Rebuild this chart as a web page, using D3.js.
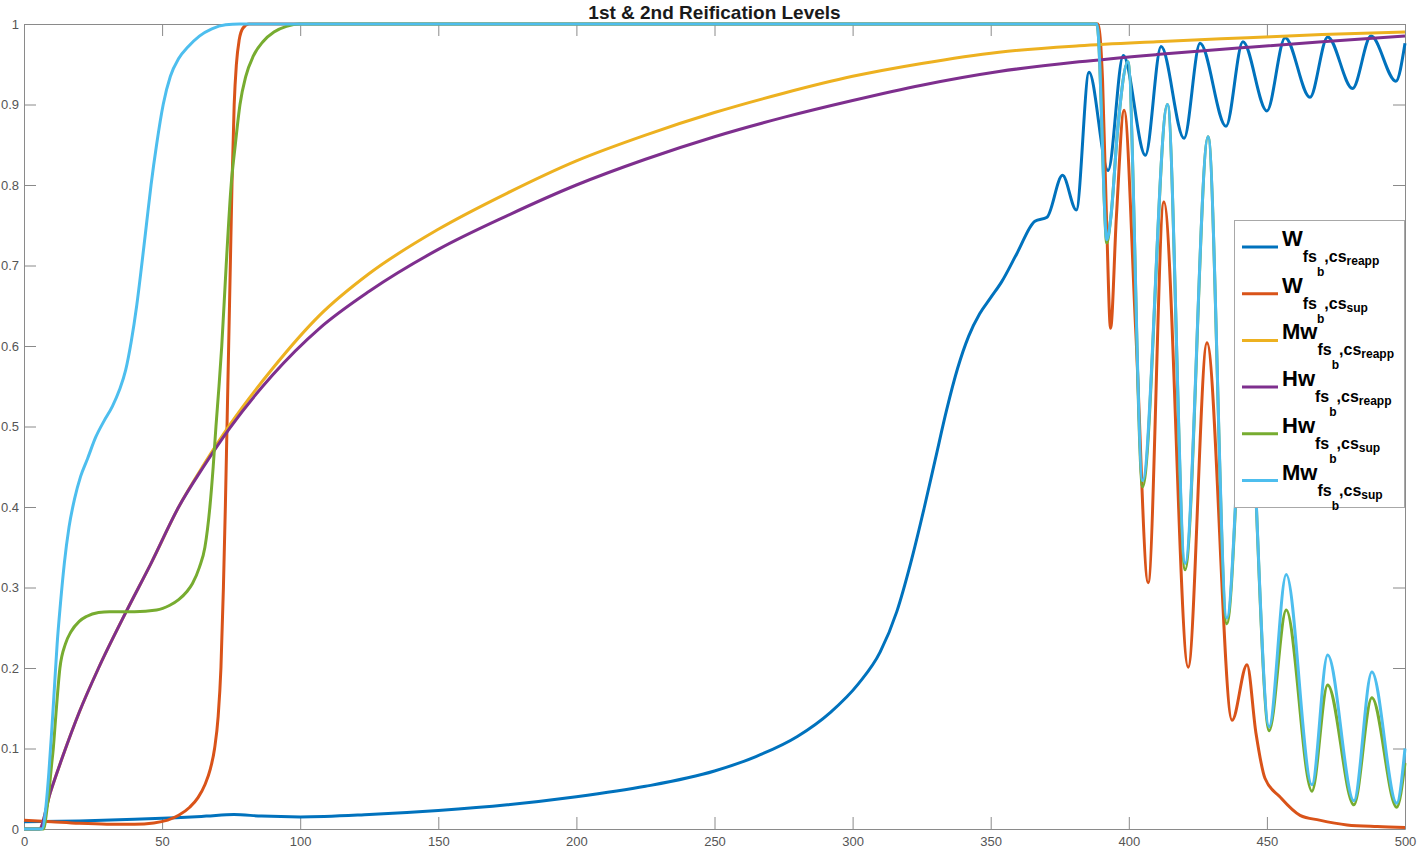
<!DOCTYPE html>
<html lang="en">
<head>
  <meta charset="UTF-8">
  <title>1st &amp; 2nd Reification Levels</title>
  <script src="https://d3js.org/d3.v7.min.js"></script>
  <style>
    * { margin: 0; padding: 0; box-sizing: border-box; }
    body { background: #fff; font-family: "Liberation Sans", Arial, Helvetica, sans-serif; }
    svg { display: block; }
    .axis text { font-family: "Liberation Sans", Arial, sans-serif; font-size: 13px; fill: #555; }
    .axis line, .axis path { stroke: #8a8a8a; }
  </style>
</head>
<body>
<svg id="chart" width="1418" height="850"></svg>
<script>
// ---- data: [t, value] ----
const xTicks = [0, 50, 100, 150, 200, 250, 300, 350, 400, 450, 500];
const yTicks = [0, 0.1, 0.2, 0.3, 0.4, 0.5, 0.6, 0.7, 0.8, 0.9, 1];
const yTickLabels = ["0", "0.1", "0.2", "0.3", "0.4", "0.5", "0.6", "0.7", "0.8", "0.9", "1"];

// W fs_b,cs_reapp (blue)
const wReapp = [
  [0, 0.009], [20, 0.01], [40, 0.012], [55, 0.014], [66, 0.016], [76, 0.018], [86, 0.016],
  [100, 0.015], [125, 0.018], [150, 0.023], [175, 0.03], [200, 0.04], [225, 0.053], [250, 0.072],
  [265, 0.09], [280, 0.115], [292, 0.145], [302, 0.18], [310, 0.22], [316, 0.27], [321, 0.33],
  [326, 0.4], [330, 0.46], [334, 0.52], [338, 0.572], [342, 0.612], [346, 0.64], [350, 0.66],
  [354, 0.68], [359.5, 0.715], [366, 0.755], [370.4, 0.76], [376, 0.812], [381, 0.769], [385.6, 0.94],
  [392.5, 0.818], [398, 0.961], [406, 0.837], [411.7, 0.972], [420, 0.858], [425.8, 0.976],
  [435.2, 0.873], [441.3, 0.978], [450, 0.892], [456.6, 0.983], [465.6, 0.909], [472, 0.984],
  [481, 0.92], [487.7, 0.985], [496.7, 0.929], [500, 0.976]
];

// W fs_b,cs_sup (orange)
const wSup = [
  [0, 0.011], [10, 0.009], [20, 0.007], [30, 0.006], [40, 0.006], [47, 0.0075], [52, 0.011],
  [56, 0.017], [60, 0.027], [63, 0.039], [65.5, 0.055], [67.5, 0.075], [69, 0.1], [70.3, 0.14],
  [71.3, 0.2], [72.2, 0.3], [72.9, 0.4], [73.5, 0.5], [74.1, 0.6], [74.7, 0.7], [75.3, 0.8],
  [76.1, 0.9], [76.9, 0.95], [77.9, 0.98], [79.3, 0.995], [81.5, 1], [388.8, 1], [390.5, 0.93],
  [392, 0.75], [393.4, 0.622], [395.5, 0.76], [398.3, 0.893], [402.5, 0.62], [407, 0.306],
  [412.7, 0.779], [421.5, 0.201], [428.3, 0.604], [437.4, 0.135], [442.8, 0.204], [446, 0.12],
  [449.3, 0.063], [454.7, 0.04], [462, 0.017], [469, 0.011], [479, 0.005], [490, 0.003], [500, 0.002]
];

// Mw fs_b,cs_reapp (yellow)
const mwReapp = [
  [0, 0], [5.5, 0], [9.5, 0.045], [14, 0.09], [20, 0.145], [27, 0.2], [37, 0.27], [46, 0.33],
  [56, 0.4], [65, 0.452], [74.5, 0.502], [90, 0.572], [107, 0.638], [125, 0.69], [150, 0.745],
  [175, 0.79], [200, 0.83], [225, 0.862], [250, 0.89], [275, 0.914], [300, 0.935], [325, 0.951],
  [353, 0.965], [382, 0.973], [410, 0.978], [443, 0.983], [470, 0.987], [500, 0.99]
];

// Hw fs_b,cs_reapp (purple)
const hwReapp = [
  [0, 0], [5.5, 0], [9.5, 0.045], [14, 0.09], [20, 0.145], [27, 0.2], [37, 0.27], [46, 0.33],
  [56, 0.4], [65, 0.45], [74.5, 0.498], [90, 0.564], [107, 0.622], [125, 0.668], [150, 0.72],
  [175, 0.762], [200, 0.8], [225, 0.832], [250, 0.86], [275, 0.884], [300, 0.905], [325, 0.924],
  [353, 0.941], [382, 0.953], [410, 0.962], [443, 0.971], [470, 0.978], [500, 0.985]
];

// Hw fs_b,cs_sup (green)
const hwSup = [
  [0, 0], [7, 0], [8.5, 0.03], [10, 0.08], [10.6, 0.1], [11.5, 0.14], [13, 0.2], [15, 0.23],
  [17, 0.245], [20, 0.258], [22.6, 0.264], [27, 0.269], [31, 0.27], [40, 0.27], [48, 0.272],
  [52.8, 0.278], [56, 0.285], [59, 0.295], [61, 0.305], [63.5, 0.325], [65.5, 0.35], [67.3, 0.4],
  [68.5, 0.45], [69.5, 0.5], [70.6, 0.55], [71.6, 0.6], [73.2, 0.7], [75, 0.8], [76.5, 0.85],
  [78.2, 0.9], [80.3, 0.935], [83, 0.96], [86.5, 0.978], [90.5, 0.99], [95, 0.997], [100, 1],
  [388.4, 1], [389, 0.985], [390, 0.9], [391, 0.79], [392, 0.728], [393.5, 0.76], [396, 0.87],
  [399.7, 0.953], [405, 0.425], [414, 0.9], [420.4, 0.322], [428.7, 0.86], [435.5, 0.255],
  [442.5, 0.6], [450.8, 0.122], [457, 0.272], [466.3, 0.047], [472, 0.179], [481.5, 0.03],
  [488, 0.163], [497, 0.027], [500, 0.082]
];

// Mw fs_b,cs_sup (light blue)
const mwSup = [
  [0, 0], [6.5, 0], [8, 0.03], [9, 0.07], [10, 0.12], [11, 0.175], [12, 0.23], [13.2, 0.28],
  [14.6, 0.33], [16.3, 0.375], [18.3, 0.41], [20.5, 0.438], [23, 0.46], [26, 0.487], [29, 0.507],
  [32, 0.525], [34.5, 0.545], [36.8, 0.57], [38.8, 0.605], [40.8, 0.65], [42.6, 0.7], [44.3, 0.75],
  [46, 0.8], [48, 0.85], [50.4, 0.9], [53, 0.935], [56, 0.957], [59.5, 0.972], [63.5, 0.985],
  [68, 0.994], [73, 0.999], [78, 1], [388.4, 1], [389, 0.985], [390, 0.9], [391, 0.79],
  [392, 0.732], [393.5, 0.76], [396, 0.87], [399.7, 0.953], [405, 0.433], [414, 0.9],
  [420.4, 0.33], [428.7, 0.86], [435.5, 0.262], [442.5, 0.6], [450.8, 0.127], [457, 0.316],
  [466.3, 0.055], [472, 0.216], [481.5, 0.035], [488, 0.195], [497, 0.032], [500, 0.1]
];

const seriesData = [wReapp, wSup, mwReapp, hwReapp, hwSup, mwSup];
const seriesMain = ["W", "W", "Mw", "Hw", "Hw", "Mw"];
const seriesSub = ["reapp", "sup", "reapp", "reapp", "sup", "sup"];
const seriesColors = ["#0072BD", "#D95319", "#EDB120", "#7E2F8E", "#77AC30", "#4DBEEE"];

// ---- layout ----
const svg = d3.select("#chart");
const margin = {top: 24, right: 13, bottom: 21, left: 24};
const width = 1418 - margin.left - margin.right;
const height = 850 - margin.top - margin.bottom;

const g = svg.append("g")
  .attr("transform", "translate(" + margin.left + "," + margin.top + ")");

const x = d3.scaleLinear().domain([0, 500]).range([0, width]);
const y = d3.scaleLinear().domain([0, 1]).range([height, 0]);

// axes, matlab style: box with inward ticks on every side
g.append("g")
  .attr("class", "axis")
  .attr("transform", "translate(0," + height + ")")
  .call(d3.axisBottom(x).tickValues(xTicks).tickSizeInner(-12).tickSizeOuter(0).tickPadding(8));

g.append("g")
  .attr("class", "axis")
  .call(d3.axisLeft(y).tickValues(yTicks).tickFormat(function(d, i) { return yTickLabels[i]; })
    .tickSizeInner(-12).tickSizeOuter(0).tickPadding(5));

g.append("g")
  .attr("class", "axis")
  .call(d3.axisTop(x).tickValues(xTicks).tickFormat("").tickSizeInner(-12).tickSizeOuter(0));

g.append("g")
  .attr("class", "axis")
  .attr("transform", "translate(" + width + ",0)")
  .call(d3.axisRight(y).tickValues(yTicks).tickFormat("").tickSizeInner(-12).tickSizeOuter(0));

// lines
const line = d3.line()
  .x(function(d) { return x(d[0]); })
  .y(function(d) { return y(d[1]); })
  .curve(d3.curveMonotoneX);

seriesData.forEach(function(data, i) {
  g.append("path")
    .datum(data)
    .attr("fill", "none")
    .attr("stroke", seriesColors[i])
    .attr("stroke-width", 3)
    .attr("stroke-linejoin", "round")
    .attr("d", line);
});

// title
svg.append("text")
  .attr("x", margin.left + width / 2)
  .attr("y", 19)
  .attr("text-anchor", "middle")
  .style("font-size", "19px")
  .style("font-weight", "bold")
  .attr("fill", "#1a1a1a")
  .text("1st & 2nd Reification Levels");

// legend
const legend = svg.append("g");
legend.append("rect")
  .attr("x", 1234.5).attr("y", 220.5)
  .attr("width", 170).attr("height", 287)
  .attr("fill", "#fff")
  .attr("stroke", "#a8a8a8");

seriesMain.forEach(function(name, i) {
  const cy = 247 + i * 46.7;
  legend.append("line")
    .attr("x1", 1242).attr("x2", 1278)
    .attr("y1", cy).attr("y2", cy)
    .attr("stroke", seriesColors[i])
    .attr("stroke-width", 3);

  // W_{fs_b,cs_{reapp}} built from tspans
  const t = legend.append("text")
    .attr("x", 1282).attr("y", cy - 1)
    .attr("fill", "#000")
    .style("font-weight", "bold");
  t.append("tspan").style("font-size", "22px").text(name);
  t.append("tspan").style("font-size", "16px").attr("dy", 16).text("fs");
  t.append("tspan").style("font-size", "12px").attr("dy", 14).text("b");
  t.append("tspan").style("font-size", "16px").attr("dy", -14).text(",cs");
  t.append("tspan").style("font-size", "12px").attr("dy", 3).text(seriesSub[i]);
});
</script>
</body>
</html>
